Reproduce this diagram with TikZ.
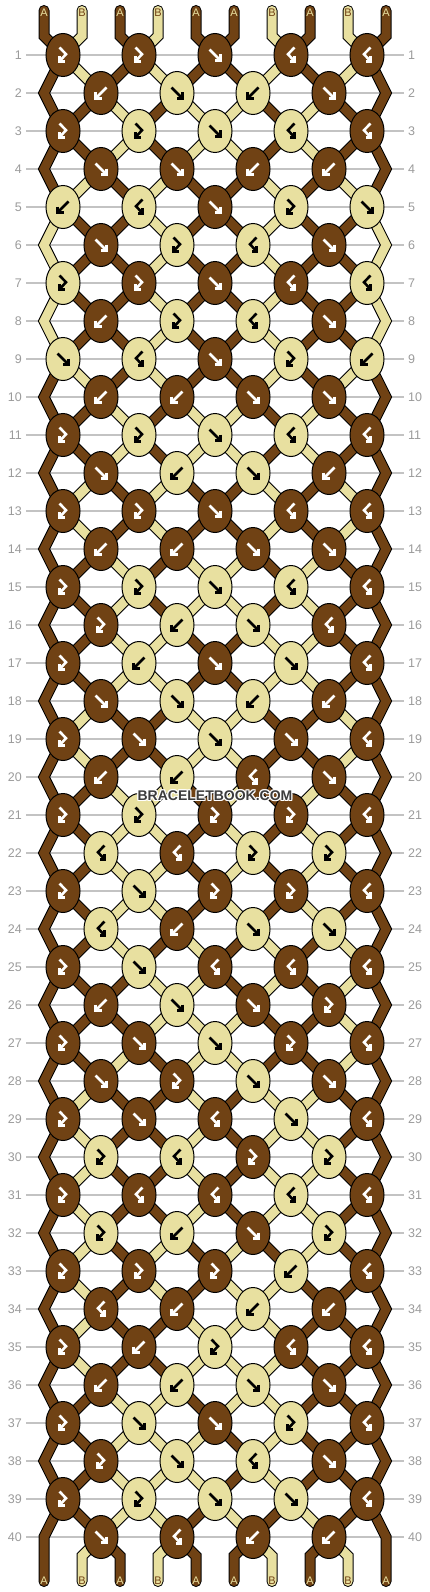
\documentclass[tikz,border=0pt]{standalone}
\usepackage{fontspec}
\setmainfont{Liberation Sans}
\usetikzlibrary{shapes.geometric}
\definecolor{cD}{RGB}{112,66,20}
\definecolor{cL}{RGB}{232,224,160}
\definecolor{gridc}{RGB}{195,195,195}
\definecolor{numc}{RGB}{155,155,155}
\definecolor{wmc}{RGB}{60,60,60}
\def\DD{D}
\newcommand\swapst[2]{%
  \edef\tmpA{\csname st#1\endcsname}\edef\tmpB{\csname st#2\endcsname}%
  \expandafter\xdef\csname st#1\endcsname{\tmpB}%
  \expandafter\xdef\csname st#2\endcsname{\tmpA}}
% one string piece, outline pass (\smode=0) or colour pass (\smode=1)
\newcommand\strseg[2]{%
  \ifnum\smode=0 \draw[strout] #1;\else\draw[strin,draw=#2] #1;\fi}
\newcommand\edgestr[4]{%
  \ifnum\smode=0
    \fill[black] ([xshift=-6.2pt]#1) -- ([xshift=-6.2pt]#2) -- ([xshift=-6.2pt]#3) -- ([xshift=6.2pt]#3) -- ([xshift=6.2pt]#2) -- ([xshift=6.2pt]#1) -- cycle;
  \else
    \fill[#4] ([xshift=-5pt]#1) -- ([xshift=-5pt]#2) -- ([xshift=-5pt]#3) -- ([xshift=5pt]#3) -- ([xshift=5pt]#2) -- ([xshift=5pt]#1) -- cycle;
  \fi}
\newcommand\allstrings{%
  \foreach \rr in {1,...,40}{
    \pgfmathtruncatemacro\odd{mod(\rr,2)}
    \foreach \j in {1,...,10}{
      \edef\cc{c\csname in-\rr-\j\endcsname}
      \ifnum\rr=1
        \strseg{(t-\j) -- (u-\j) -- (p-1-\j)}{\cc}
      \else
        \pgfmathtruncatemacro\rp{\rr-1}
        \pgfmathtruncatemacro\rpp{\rr-2}
        \pgfmathtruncatemacro\isedge{(\j==1)||(\j==10)}
        \ifnum\isedge=1
          \ifnum\odd=1
            \edgestr{p-\rpp-\j}{p-\rp-\j}{p-\rr-\j}{\cc}
          \fi
        \else
          \strseg{(p-\rp-\j) -- (p-\rr-\j)}{\cc}
        \fi
      \fi
    }
  }
  \foreach \j in {1,...,10}{
    \edef\cc{c\csname in-41-\j\endcsname}
    \pgfmathtruncatemacro\isedge{(\j==1)||(\j==10)}
    \ifnum\isedge=1
      \strseg{(p-39-\j) -- (p-40-\j) -- (w-\j)}{\cc}
    \else
      \strseg{(p-40-\j) -- (v-\j) -- (w-\j)}{\cc}
    \fi
  }}
\tikzset{
  strout/.style={draw=black, line width=11pt, line cap=round, line join=miter},
  strin/.style={line width=9pt, line cap=round, line join=miter},
  knot/.style={ellipse, draw=black, line width=1pt, minimum width=34pt, minimum height=43pt, inner sep=0pt},
  gridline/.style={draw=gridc, line width=1.3pt},
  numl/.style={anchor=east, text=numc, font=\fontsize{12.5}{14}\selectfont, inner sep=0pt},
  numr/.style={anchor=west, text=numc, font=\fontsize{12.5}{14}\selectfont, inner sep=0pt},
  lab/.style={font=\fontsize{11}{11}\selectfont, inner sep=0pt},
  wm/.style={font=\fontsize{14}{14}\selectfont\bfseries, inner sep=0pt},
  arr/.style={line width=2.6pt, line cap=butt, line join=miter},
  pics/af/.style={code={\draw[arr,draw=#1] (-5.5,-5.5) -- (4.5,4.5); \draw[arr,draw=#1] (5.5,-0.5) -- (5.5,5.5) -- (-0.5,5.5);}},
  pics/ab/.style={code={\draw[arr,draw=#1] (5.5,-5.5) -- (-4.5,4.5); \draw[arr,draw=#1] (-5.5,-0.5) -- (-5.5,5.5) -- (0.5,5.5);}},
  pics/ap/.style={code={\draw[arr,draw=#1] (-3.5,-7.5) -- (3,-0.8) -- (-2.8,5.5); \draw[arr,draw=#1] (-3.7,1.2) -- (-3.7,6.5) -- (1.5,6.5);}},
  pics/aq/.style={code={\draw[arr,draw=#1] (3.5,-7.5) -- (-3,-0.8) -- (2.8,5.5); \draw[arr,draw=#1] (3.7,1.2) -- (3.7,6.5) -- (-1.5,6.5);}},
}
\begin{document}
\begin{tikzpicture}[x=1pt,y=-1pt]
\fill[white] (0,0) rectangle (430,1592);
\useasboundingbox (0,0) rectangle (430,1592);
% initial string colours (A = brown, B = cream)
\foreach \j/\c in {1/D,2/L,3/D,4/L,5/D,6/D,7/L,8/D,9/L,10/D}{\expandafter\xdef\csname st\j\endcsname{\c}}
% end points of the strings
\foreach \j in {1,...,10}{
  \pgfmathsetmacro\xx{44+38*(\j-1)}
  \coordinate (t-\j) at (\xx,10.5);
  \coordinate (u-\j) at (\xx,36);
  \coordinate (v-\j) at (\xx,1556);
  \coordinate (w-\j) at (\xx,1581.5);
}
% simulation of the knotting, row by row
\foreach \rowlist [count=\rr] in {{p,p,f,q,q},{b,f,b,f},{p,p,f,q,q},{f,f,b,b},{b,q,f,p,f},{f,p,q,f},{p,p,f,q,q},{b,p,q,f},{f,q,f,p,b},{b,b,f,f},{p,p,f,q,q},{f,b,f,b},{p,p,f,q,q},{b,b,f,f},{p,p,f,q,q},{p,b,f,q},{p,b,f,f,q},{f,f,b,b},{p,f,f,f,q},{b,b,q,f},{p,p,p,p,q},{q,q,p,p},{p,f,p,p,q},{q,b,f,f},{p,f,q,q,q},{b,f,f,p},{p,f,f,p,q},{f,p,f,f},{p,f,q,f,q},{p,q,p,p},{p,q,q,q,q},{p,b,f,p},{p,p,p,b,q},{q,b,b,b},{p,b,p,q,q},{b,b,f,f},{p,f,f,p,q},{p,f,q,f},{p,p,f,f,q},{f,q,b,b}}{
  \pgfmathtruncatemacro\yy{55+38*(\rr-1)}
  \pgfmathtruncatemacro\odd{mod(\rr,2)}
  \foreach \j in {1,...,10}{
    \ifnum\odd=1
      \pgfmathsetmacro\cx{63+76*floor((\j-1)/2)}
    \else
      \ifnum\j=1 \def\cx{44}\else\ifnum\j=10 \def\cx{386}\else
        \pgfmathsetmacro\cx{101+76*(floor(\j/2)-1)}\fi\fi
    \fi
    \coordinate (p-\rr-\j) at (\cx,\yy);
    \expandafter\xdef\csname in-\rr-\j\endcsname{\csname st\j\endcsname}
  }
  \foreach \ty [count=\ki] in \rowlist {
    \pgfmathtruncatemacro\pa{\odd==1 ? 2*\ki-1 : 2*\ki}
    \pgfmathtruncatemacro\pb{\pa+1}
    \edef\clc{\csname st\pa\endcsname}
    \edef\crc{\csname st\pb\endcsname}
    \if f\ty \let\kc\clc \else \if p\ty \let\kc\clc \else \let\kc\crc \fi\fi
    \expandafter\xdef\csname kc-\rr-\ki\endcsname{\kc}
    \expandafter\xdef\csname kt-\rr-\ki\endcsname{\ty}
    \if f\ty \swapst{\pa}{\pb}\fi
    \if b\ty \swapst{\pa}{\pb}\fi
  }
}
\foreach \j in {1,...,10}{\expandafter\xdef\csname in-41-\j\endcsname{\csname st\j\endcsname}}
% grid lines and row numbers
\foreach \rr in {1,...,40}{
  \pgfmathtruncatemacro\yy{55+38*(\rr-1)}
  \draw[gridline] (26,\yy) -- (404,\yy);
  \node[numl] (nl-\rr) at (22,\yy) {\rr};
  \node[numr] (nr-\rr) at (408,\yy) {\rr};
}
% strings: outlines, then colours
\def\smode{0}\allstrings
\def\smode{1}\allstrings
% knots
\foreach \rr in {1,...,40}{
  \pgfmathtruncatemacro\odd{mod(\rr,2)}
  \pgfmathtruncatemacro\nk{\odd==1 ? 5 : 4}
  \foreach \ki in {1,...,\nk}{
    \pgfmathtruncatemacro\pa{\odd==1 ? 2*\ki-1 : 2*\ki}
    \edef\kc{\csname kc-\rr-\ki\endcsname}
    \edef\ty{\csname kt-\rr-\ki\endcsname}
    \edef\kfill{c\kc}
    \edef\arc{\ifx\kc\DD white\else black\fi}
    \node[knot, fill=\kfill] (k-\rr-\ki) at (p-\rr-\pa) {};
    \edef\tmpcmd{\noexpand\pic at (k-\rr-\ki) {a\ty=\arc};}
    \tmpcmd
  }
}
% string labels
\foreach \j/\lt in {1/A,2/B,3/A,4/B,5/A,6/A,7/B,8/A,9/B,10/A}{
  \pgfmathsetmacro\xx{44+38*(\j-1)}
  \if A\lt \def\lc{cL}\else\def\lc{cD}\fi
  \node[lab,text=\lc] (lt-\j) at (\xx,13) {\lt};
  \node[lab,text=\lc] (lb-\j) at (\xx,1580.5) {\lt};
}
% watermark
\foreach \dx/\dy in {-1/-1,-1/0,-1/1,0/-1,0/1,1/-1,1/0,1/1}{
  \node[wm,text=white] at (215+\dx,795.5+\dy) {BRACELETBOOK.COM};
}
\node[wm,text=wmc] (wm) at (215,795.5) {BRACELETBOOK.COM};
\end{tikzpicture}
\end{document}
